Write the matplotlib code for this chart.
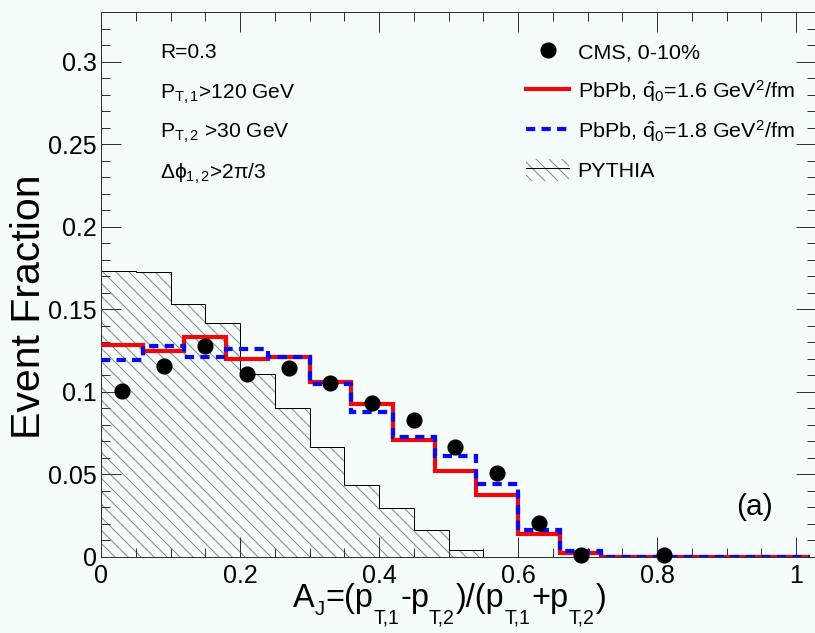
import numpy as np
import matplotlib
matplotlib.use("Agg")
import matplotlib.pyplot as plt
from matplotlib.lines import Line2D
from matplotlib.patches import Patch
from matplotlib.ticker import MultipleLocator, FuncFormatter

# ---------------- data ----------------
pythia_edges = [0.0, 0.05, 0.10, 0.15, 0.20, 0.25, 0.30, 0.35, 0.40, 0.45, 0.50, 0.55]
pythia_vals = [0.1733, 0.1727, 0.1530, 0.1415, 0.1110, 0.0903, 0.0667, 0.0433, 0.0293, 0.0162, 0.0040]

model_edges = [0.0, 0.06, 0.12, 0.18, 0.24, 0.30, 0.36, 0.42, 0.48, 0.54, 0.60,
               0.66, 0.72, 0.78, 0.84, 0.90, 0.96, 1.02]
q16_vals = [0.1285, 0.1247, 0.1330, 0.1200, 0.1212, 0.1060, 0.0925, 0.0707, 0.0520,
            0.0374, 0.0138, 0.0024, 0.0, 0.0, 0.0, 0.0, 0.0]
q18_vals = [0.1190, 0.1277, 0.1208, 0.1259, 0.1208, 0.1047, 0.0879, 0.0727, 0.0612,
            0.0439, 0.0162, 0.0036, 0.0, 0.0, 0.0, 0.0, 0.0]

cms_x = [0.03, 0.09, 0.15, 0.21, 0.27, 0.33, 0.39, 0.45, 0.51, 0.57, 0.63, 0.69, 0.81]
cms_y = [0.1004, 0.1158, 0.1277, 0.1107, 0.1142, 0.1051, 0.0930, 0.0828, 0.0667,
         0.0505, 0.0206, 0.0012, 0.0008]

x_ticks = [0, 0.2, 0.4, 0.6, 0.8, 1.0]
y_ticks = [0, 0.05, 0.1, 0.15, 0.2, 0.25, 0.3]

# x title pieces: (text, kind) 0 = main, 1 = shallow subscript, 2 = deep subscript
xtitle_parts = [("A", 0), ("J", 1), ("=(p", 0), ("T,1", 2), ("-p", 0), ("T,2", 2),
                (")/(p", 0), ("T,1", 2), ("+p", 0), ("T,2", 2), (")", 0)]

# ---------------- style ----------------
DPI = 117
W, H = 815, 633
def P(px):
    return px * 72.0 / DPI

BG = '#f4fcfc'
RED = '#ee0a0a'
BLUE = '#0a0aee'
HATCH_GRAY = '#8f8f8f'

plt.rcParams['font.family'] = ['Liberation Sans', 'DejaVu Sans']
plt.rcParams['mathtext.fontset'] = 'custom'
plt.rcParams['mathtext.rm'] = 'Liberation Sans'
plt.rcParams['mathtext.it'] = 'Liberation Sans:italic'
plt.rcParams['mathtext.bf'] = 'Liberation Sans:bold'
plt.rcParams['mathtext.default'] = 'regular'
plt.rcParams['hatch.linewidth'] = P(1.1)

fig = plt.figure(figsize=(W / DPI, H / DPI), dpi=DPI, facecolor=BG)
ax = fig.add_axes([101 / W, 76.3 / H, 715 / W, (621 - 76.3) / H])
ax.set_facecolor(BG)

# PYTHIA hatched histogram
ax.stairs(pythia_vals, pythia_edges, fill=True, facecolor='none',
          edgecolor=HATCH_GRAY, hatch='\\\\\\', linewidth=0, zorder=1)
ax.stairs(pythia_vals, pythia_edges, baseline=0, fill=False,
          edgecolor='black', linewidth=P(1.0), zorder=2)

# model histograms
ax.stairs(q16_vals, model_edges, baseline=None, color=RED, linewidth=P(4.2), zorder=3)
ax.stairs(q18_vals, model_edges, baseline=None, color=BLUE, linewidth=P(4.2),
          linestyle=(0, (2.2, 1.5)), zorder=4)

# CMS points
ax.plot(cms_x, cms_y, 'o', color='black', markersize=P(14.5), zorder=5, clip_on=False)

ax.set_xlim(0, 715 / 695)
ax.set_ylim(0, (556.7 - 12) / 1650)

ax.xaxis.set_minor_locator(MultipleLocator(0.05))
ax.yaxis.set_minor_locator(MultipleLocator(0.01))
ax.set_xticks(x_ticks)
ax.set_yticks(y_ticks)
fmt = FuncFormatter(lambda v, p: ('%g' % round(v, 4)))
ax.xaxis.set_major_formatter(fmt)
ax.yaxis.set_major_formatter(fmt)

ax.tick_params(which='both', direction='in', top=True, right=True, colors='#333333',
               labelcolor='black', width=P(1.0))
ax.tick_params(which='major', length=P(20), labelsize=P(25))
ax.tick_params(which='minor', length=P(9))
ax.tick_params(axis='y', which='major', pad=P(4))
ax.tick_params(axis='x', which='major', pad=P(7))
for s in ax.spines.values():
    s.set_linewidth(P(1.0))
    s.set_color('#333333')

# x axis title, ROOT-like deep subscripts
renderer = fig.canvas.get_renderer()
xpos = 293.0
base_y = 607.0
for txt, kind in xtitle_parts:
    if kind == 0:
        size, dy, gap = 32.5, 0.0, 0.0
    elif kind == 1:
        size, dy, gap = 20.5, 8.0, 0.5
    else:
        size, dy, gap = 19.5, 16.5, 1.0
    t = fig.text(xpos / W, 1 - (base_y + dy) / H, txt, fontsize=P(size),
                 ha='left', va='baseline')
    bb = t.get_window_extent(renderer)
    xpos += bb.width + gap

fig.text(29 / W, 1 - 307 / H, 'Event Fraction', fontsize=P(41), rotation=90,
         ha='center', va='center')

# cut annotations
txt_kw = dict(fontsize=P(21), ha='left', va='baseline')
fig.text(160 / W, 1 - 58 / H, 'R=0.3', **txt_kw)
fig.text(160 / W, 1 - 99 / H, r'$P_{T,1}$>120 GeV', **txt_kw)
fig.text(160 / W, 1 - 138 / H, r'$P_{T,2}$ >30 GeV', **txt_kw)
fig.text(160 / W, 1 - 179 / H, r'Δϕ$_{1,2}$>2π/3', **txt_kw)

fig.text(754 / W, 1 - 507 / H, '(a)', fontsize=P(30), ha='center', va='center')

# legend
h_cms = Line2D([], [], marker='o', linestyle='none', color='black', markersize=P(14.5))
h_16 = Line2D([], [], color=RED, linewidth=P(4.2))
h_18 = Line2D([], [], color=BLUE, linewidth=P(4.2), linestyle=(0, (2.2, 1.5)))
h_py = (Patch(facecolor='none', edgecolor=HATCH_GRAY, hatch='\\\\\\', linewidth=0),
        Line2D([], [], color='black', linewidth=P(1.0)))
leg = fig.legend([h_cms, h_16, h_18, h_py],
                 ['CMS, 0-10%',
                  r'PbPb, $\hat{q}_{0}$=1.6 GeV$^{2}$/fm',
                  r'PbPb, $\hat{q}_{0}$=1.8 GeV$^{2}$/fm',
                  'PYTHIA'],
                 loc='upper left', bbox_to_anchor=(526 / W, 1 - 41 / H),
                 frameon=False, fontsize=P(21.5), handlelength=2.0, handleheight=1.15,
                 handletextpad=0.4, labelspacing=0.69, borderpad=0, borderaxespad=0)

fig.savefig('out.png', dpi=DPI, facecolor=BG)
